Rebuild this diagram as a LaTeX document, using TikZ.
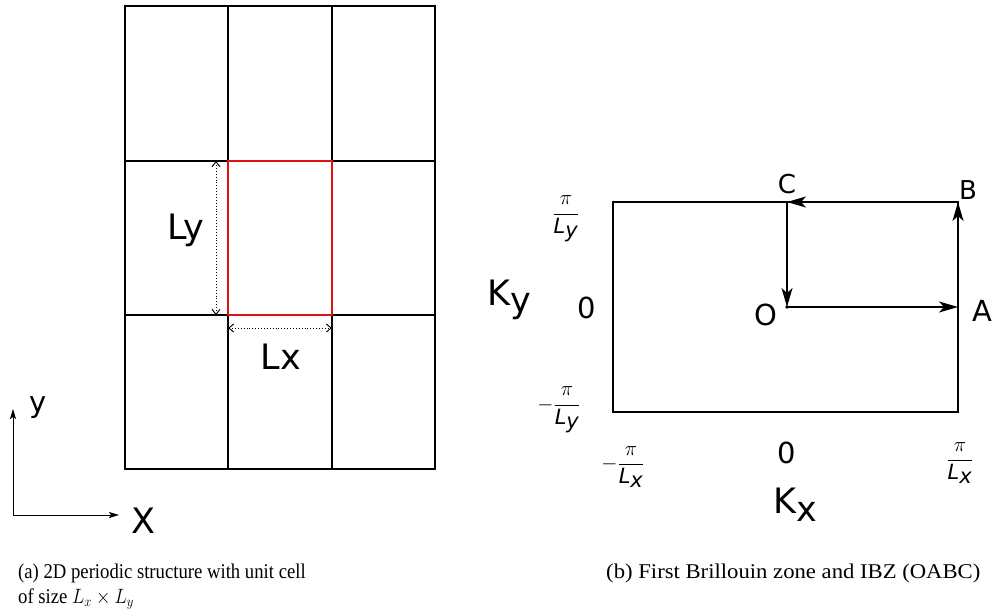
\documentclass[tikz,border=0pt]{standalone}
\usepackage{fontspec}
\setmainfont{Liberation Serif}
\newfontfamily\labfont{DejaVu Sans}
\newcommand{\sfL}[1]{\textit{\labfont L}_{\textit{\labfont #1}}}
\usetikzlibrary{arrows.meta}
\begin{document}
\begin{tikzpicture}[x=1pt,y=-1pt,
  gridline/.style={line width=1.9pt},
  cellline/.style={line width=1.9pt, draw={rgb,255:red,220;green,20;blue,20}},
  dimarrow/.style={dotted, line width=0.9pt, {Straight Barb[length=5pt,width=8pt]}-{Straight Barb[length=5pt,width=8pt]}},
  axisarrow/.style={line width=0.9pt, -{Stealth[length=10pt,width=6pt,inset=2pt]}},
  bzline/.style={line width=2.5pt},
  patharrow/.style={line width=1.3pt, -{Stealth[length=19pt,width=11pt,inset=5pt]}},
  biglab/.style={font=\labfont\fontsize{35}{40}\selectfont, inner sep=0pt},
  midlab/.style={font=\labfont\fontsize{29}{32}\selectfont, inner sep=0pt},
  smalllab/.style={font=\labfont\fontsize{26}{30}\selectfont, inner sep=0pt},
  fraclab/.style={font=\fontsize{21}{24}\selectfont, inner sep=0pt},
  caplab/.style={font=\fontsize{21}{25}\selectfont, inner sep=0pt, anchor=base west},
]
\useasboundingbox (0,0) rectangle (995,613);
% ---------- (a) lattice ----------
\draw[gridline] (125,6) rectangle (435,469);
\foreach \xx in {228,332} \draw[gridline] (\xx,6) -- (\xx,469);
\foreach \yy in {161,315} \draw[gridline] (125,\yy) -- (435,\yy);
\coordinate (c1) at (228,161);
\coordinate (c2) at (332,315);
\draw[cellline] (c1) rectangle (c2);
% dimension arrows
\coordinate (ly1) at (216,161);
\coordinate (ly2) at (216,315);
\draw[dimarrow] (ly1) -- (ly2);
\coordinate (lx1) at (228,328);
\coordinate (lx2) at (332,328);
\draw[dimarrow] (lx1) -- (lx2);
\node[biglab] (Ly) at (186,230) {Ly};
\node[biglab] (Lx) at (281,357) {Lx};
% axes
\coordinate (ax0) at (13,515);
\coordinate (axy) at (13,409);
\coordinate (axx) at (119,515);
\draw[axisarrow] (ax0) -- (axy);
\draw[axisarrow] (ax0) -- (axx);
\node[midlab] (ylab) at (38,408) {y};
\node[biglab] (Xlab) at (143,521) {X};
% ---------- (b) Brillouin zone ----------
\coordinate (BL) at (613,412);
\coordinate (TR) at (958,202);
\draw[bzline] (BL) rectangle (TR);
\coordinate (O) at (787,307);
\coordinate (A) at (958,307);
\coordinate (B) at (958,202);
\coordinate (C) at (787,202);
\fill (O) circle (1.8pt);
\draw[patharrow] (O) -- (A);
\draw[patharrow] (A) -- (B);
\draw[patharrow] (B) -- (C);
\draw[patharrow] (C) -- (O);
\node[smalllab] (Clab) at (787,184) {C};
\node[smalllab] (Blab) at (968,190) {B};
\node[midlab] (Olab) at (766,315) {O};
\node[midlab] (Alab) at (982,311) {A};
\node[biglab] (Ky) at (509,300) {K\raisebox{-0.22em}{y}};
\node[midlab] (zy) at (587,308) {0};
\node[midlab] (zx) at (787,453) {0};
\node[biglab] (Kx) at (795,505) {K\raisebox{-0.22em}{x}};
\node[fraclab] (py) at (566,219) {$\displaystyle\frac{\pi}{\sfL{y}}$};
\node[fraclab] (my) at (559,410) {$\displaystyle-\frac{\pi}{\sfL{y}}$};
\node[fraclab] (mx) at (623,467) {$\displaystyle-\frac{\pi}{\sfL{x}}$};
\node[fraclab] (px) at (960,463) {$\displaystyle\frac{\pi}{\sfL{x}}$};
% ---------- captions ----------
\node[caplab, xscale=0.89] (capa1) at (18,578) {(a) 2D periodic structure with unit cell};
\node[caplab, xscale=0.89] (capa2) at (18,603) {of size $L_x\times L_y$};
\node[caplab, xscale=1.08] (capb) at (606,578) {(b) First Brillouin zone and IBZ (OABC)};
\end{tikzpicture}
\end{document}
